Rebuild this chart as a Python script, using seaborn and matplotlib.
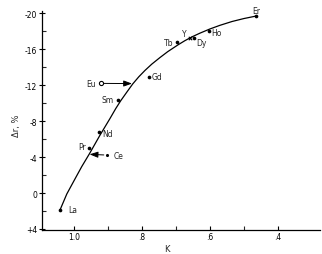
import matplotlib
matplotlib.use("Agg")
import matplotlib.pyplot as plt
import seaborn as sns
import pandas as pd

# --- data ---
elements = ["La", "Pr", "Nd", "Sm", "Gd", "Tb", "Dy", "Ho", "Er"]
elem_k = [1.041, 0.955, 0.926, 0.869, 0.779, 0.696, 0.646, 0.604, 0.465]
elem_dr = [1.86, -5.03, -6.74, -10.39, -12.86, -16.78, -17.22, -18.0, -19.67]

eu_k, eu_dr = 0.921, -12.19
eu_arrow_k, eu_arrow_dr = 0.829, -12.17
ce_k, ce_dr = 0.904, -4.22
ce_arrow_k, ce_arrow_dr = 0.954, -4.3
y_k, y_dr = 0.659, -17.22

curve_k = [1.041, 1.021, 0.997, 0.977, 0.954, 0.924, 0.894, 0.877, 0.862,
           0.844, 0.827, 0.809, 0.791, 0.771, 0.747, 0.724, 0.694, 0.674,
           0.653, 0.629, 0.600, 0.571, 0.535, 0.500, 0.465]
curve_dr = [1.89, 0.11, -1.56, -2.94, -4.39, -6.39, -8.28, -9.39, -10.28,
            -11.24, -12.13, -12.93, -13.63, -14.33, -15.06, -15.72, -16.47,
            -16.93, -17.36, -17.78, -18.24, -18.64, -19.07, -19.40, -19.67]

x_ticks = [1.0, 0.8, 0.6, 0.4]
x_tick_labels = ["1.0", ".8", ".6", ".4"]
y_ticks = [-20, -16, -12, -8, -4, 0, 4]
y_tick_labels = ["-20", "-16", "-12", "-8", "-4", "0", "+4"]

# label offsets in pixels (dx, dy; dy up positive), alignment
label_style = {
    "La": (8, 0, "left"), "Pr": (-3, 1, "right"), "Nd": (3, -1, "left"),
    "Sm": (-5, 0, "right"), "Gd": (3, 1, "left"), "Tb": (-4, 0, "right"),
    "Dy": (2, -4, "left"), "Ho": (2.5, -1.5, "left"), "Er": (0, 6, "center"),
}

sns.set_style("white")
plt.rcParams["font.family"] = ["DejaVu Sans"]

fig = plt.figure(figsize=(3.22, 2.55), dpi=100)
ax = fig.add_axes([0.1304, 0.0953, 0.8634, 0.858])

curve_df = pd.DataFrame({"k": curve_k, "dr": curve_dr})
sns.lineplot(data=curve_df, x="k", y="dr", sort=False, color="black",
             linewidth=0.9, ax=ax)

pts = pd.DataFrame({"k": elem_k, "dr": elem_dr, "el": elements})
sns.scatterplot(data=pts, x="k", y="dr", color="black", s=7, linewidth=0,
                ax=ax, zorder=3)
sns.scatterplot(x=[eu_k], y=[eu_dr], marker="o", facecolor="white",
                edgecolor="black", s=9, linewidth=0.8, ax=ax, zorder=3)
sns.scatterplot(x=[ce_k], y=[ce_dr], color="black", s=5, linewidth=0,
                ax=ax, zorder=3)
sns.scatterplot(x=[y_k], y=[y_dr], marker="x", color="black", s=6,
                linewidth=0.8, ax=ax, zorder=3)

fs = 5.5
for el, k, dr in zip(elements, elem_k, elem_dr):
    dx, dy, ha = label_style[el]
    ax.annotate(el, (k, dr), xytext=(dx * 0.72, dy * 0.72),
                textcoords="offset points", ha=ha, va="center", fontsize=fs)
ax.annotate("Eu", (eu_k, eu_dr), xytext=(-5 * 0.72, 0), textcoords="offset points",
            ha="right", va="center", fontsize=fs)
ax.annotate("Ce", (ce_k, ce_dr), xytext=(7 * 0.72, 0), textcoords="offset points",
            ha="left", va="center", fontsize=fs)
ax.annotate("Y", (y_k, y_dr), xytext=(-6 * 0.72, 5 * 0.72), textcoords="offset points",
            ha="center", va="center", fontsize=fs)

arrowprops = dict(arrowstyle="-|>,head_length=0.5,head_width=0.18", color="black",
                  linewidth=0.7, shrinkA=2, shrinkB=0)
ax.annotate("", xy=(eu_arrow_k, eu_arrow_dr), xytext=(eu_k, eu_dr),
            arrowprops=arrowprops)
ax.annotate("", xy=(ce_arrow_k, ce_arrow_dr), xytext=(ce_k, ce_dr),
            arrowprops=arrowprops)

ax.set_xlim(1.094, 0.276)
ax.set_ylim(4.08, -20.25)

ax.set_xticks(x_ticks)
ax.set_xticklabels(x_tick_labels)
ax.set_xticks([0.9, 0.7, 0.5], minor=True)
ax.set_yticks(y_ticks)
ax.set_yticklabels(y_tick_labels)
ax.set_yticks([-18, -14, -10, -6, -2, 2], minor=True)

ax.tick_params(axis="x", which="major", direction="in", length=3, width=0.8,
               labelsize=fs, pad=2, colors="black", bottom=True)
ax.tick_params(axis="x", which="minor", direction="in", length=3, width=0.8,
               bottom=True)
ax.tick_params(axis="y", which="major", direction="inout", length=5, width=0.8,
               labelsize=fs, pad=1, colors="black", left=True)
ax.tick_params(axis="y", which="minor", direction="in", length=3, width=0.8,
               left=True)

for side in ["top", "right"]:
    ax.spines[side].set_visible(False)
for side in ["left", "bottom"]:
    ax.spines[side].set_color("black")
    ax.spines[side].set_linewidth(0.9)

ax.set_xlabel("K", fontsize=6)
ax.xaxis.set_label_coords(0.449, -0.064)
ax.set_ylabel("Δr, %", fontsize=6)
ax.yaxis.set_label_coords(-0.075, 0.48)

fig.savefig("out.png", dpi=100)
